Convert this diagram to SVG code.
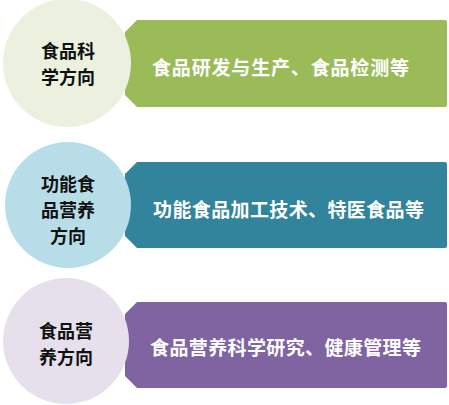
<svg xmlns="http://www.w3.org/2000/svg" width="449" height="405" viewBox="0 0 449 405">
<style>
.lbl{font-family:"Noto Sans CJK SC","Noto Sans",sans-serif;font-weight:bold;text-anchor:middle;dominant-baseline:central}
.ct{font-size:18px;fill:#111}
.bt{font-size:19px;fill:#fff;text-anchor:start}
</style>
<rect width="449" height="405" fill="#fff"/>
<g id="node1">
<path d="M137,20 L445,20 Q447,20 447,22 L447,105 Q447,107 445,107 L137,107 L125,95 L125,32 Z" fill="#9BBB59"/>
<text class="lbl bt" x="152" y="66" textLength="257" lengthAdjust="spacing">食品研发与生产、食品检测等</text>
<circle cx="67" cy="63" r="64" fill="#EBF1DE"/>
<text class="lbl ct" x="68" y="50">食品科</text>
<text class="lbl ct" x="68" y="76">学方向</text>
</g>
<g id="node2">
<path d="M137,162 L445,162 Q447,162 447,164 L447,246 Q447,248 445,248 L137,248 L125,236 L125,174 Z" fill="#31849B"/>
<text class="lbl bt" x="153" y="208" textLength="271" lengthAdjust="spacing">功能食品加工技术、特医食品等</text>
<circle cx="68" cy="205" r="63" fill="#B7DEE8"/>
<text class="lbl ct" x="68" y="183">功能食</text>
<text class="lbl ct" x="68" y="209">品营养</text>
<text class="lbl ct" x="68" y="235">方向</text>
</g>
<g id="node3">
<path d="M137,302 L445,302 Q447,302 447,304 L447,386 Q447,388 445,388 L137,388 L125,376 L125,314 Z" fill="#8064A2"/>
<text class="lbl bt" x="150" y="346" textLength="271" lengthAdjust="spacing">食品营养科学研究、健康管理等</text>
<circle cx="66" cy="341" r="63" fill="#E5E0EC"/>
<text class="lbl ct" x="66" y="330">食品营</text>
<text class="lbl ct" x="66" y="356">养方向</text>
</g>
<g id="connectors"></g>
</svg>
